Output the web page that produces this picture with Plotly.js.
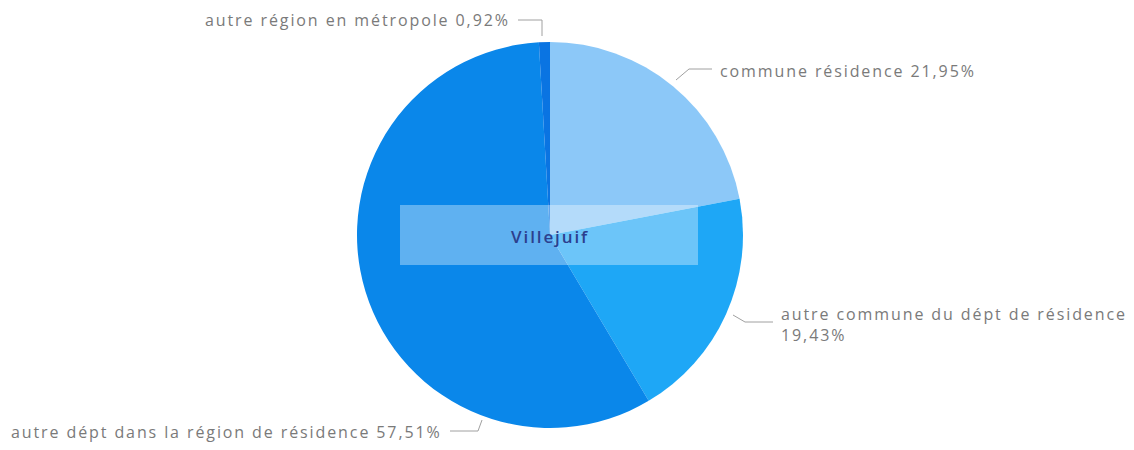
<!DOCTYPE html>
<html>
<head>
<meta charset="utf-8">
<script src="https://cdn.plot.ly/plotly-3.0.1.min.js"></script>
<style>
html,body{margin:0;padding:0;background:#fff;}
#chart{width:1134px;height:450px;}
.annotation-text{letter-spacing:1.9px;}
</style>
</head>
<body>
<div id="chart"></div>
<script>
// Data
const categories = ["commune résidence", "autre commune du dépt de résidence", "autre dépt dans la région de résidence", "autre région en métropole"];
const shares = [21.95, 19.43, 57.51, 0.92];
const shareLabels = ["21,95%", "19,43%", "57,51%", "0,92%"];
const sliceColors = ["#8cc8f8", "#1ea7f6", "#0a87ea", "#0a74e2"];
const centerLabel = "Villejuif";

const W = 1134, H = 450;
const px = x => x / W;
const py = y => 1 - y / H;
const cx = 550, cy = 235, R = 193;

const labelColor = "#7a7a7a";
const labelFont = {family: "Open Sans, Noto Sans, sans-serif", size: 16, color: labelColor};

// label layout (positions in px) : text anchor + leader path
const labelLayout = [
  {x: 718, y: 71, xanchor: "left", text: categories[0] + " " + shareLabels[0],
   path: [[676, 80], [689, 69], [712, 69]]},
  {x: 779, y: 324, xanchor: "left", text: categories[1] + "<br>" + shareLabels[1],
   path: [[733, 315], [745, 322], [773, 322]]},
  {x: 444, y: 432, xanchor: "right", text: categories[2] + " " + shareLabels[2],
   path: [[482, 420], [478, 431], [450, 431]]},
  {x: 512, y: 20, xanchor: "right", text: categories[3] + " " + shareLabels[3],
   path: [[542, 36], [542, 20], [518, 20]]}
];

const shapes = labelLayout.map(l => ({
  type: "path", xref: "paper", yref: "paper",
  path: "M" + l.path.map(p => px(p[0]) + "," + py(p[1])).join(" L"),
  line: {color: "#a0a0a0", width: 1}
}));
// centre label box
shapes.push({
  type: "rect", xref: "paper", yref: "paper",
  x0: px(400), x1: px(698), y0: py(265), y1: py(205),
  fillcolor: "rgba(255,255,255,0.35)", line: {width: 0}, layer: "above"
});

const annotations = labelLayout.map(l => ({
  xref: "paper", yref: "paper", x: px(l.x), y: py(l.y),
  xanchor: l.xanchor, yanchor: "middle", align: "left",
  text: l.text, showarrow: false, font: labelFont
}));
annotations.push({
  xref: "paper", yref: "paper", x: px(cx), y: py(237),
  xanchor: "center", yanchor: "middle", text: centerLabel, showarrow: false,
  font: {family: "Open Sans, Noto Sans, sans-serif", size: 17, color: "#2c3f8e", weight: 600}
});

const trace = {
  type: "pie",
  labels: categories,
  values: shares,
  sort: false,
  direction: "clockwise",
  rotation: 0,
  marker: {colors: sliceColors, line: {width: 0}},
  textinfo: "none",
  hoverinfo: "label+percent",
  domain: {x: [px(cx - R), px(cx + R)], y: [py(cy + R), py(cy - R)]},
  showlegend: false
};

Plotly.newPlot("chart", [trace], {
  width: W, height: H,
  margin: {l: 0, r: 0, t: 0, b: 0},
  paper_bgcolor: "#ffffff",
  showlegend: false,
  shapes: shapes,
  annotations: annotations
}, {displayModeBar: false, staticPlot: true});
</script>
</body>
</html>
